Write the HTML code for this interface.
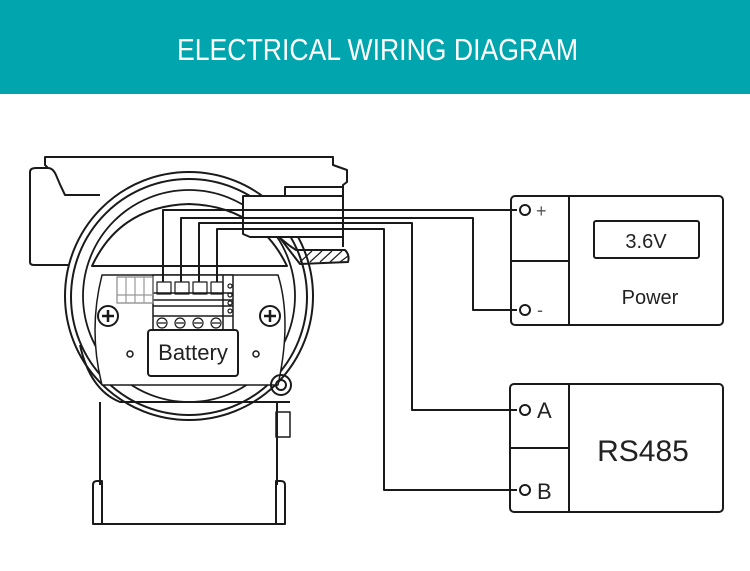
<!DOCTYPE html>
<html><head><meta charset="utf-8"><style>
html,body{margin:0;padding:0;background:#fff;}
svg{display:block;}
</style></head><body>
<svg width="750" height="571" viewBox="0 0 750 571" xmlns="http://www.w3.org/2000/svg" font-family="Liberation Sans, sans-serif">
<rect x="0" y="0" width="750" height="94" fill="#00a5ad"/>
<text x="177" y="60" font-size="31" fill="#fff" textLength="401" lengthAdjust="spacingAndGlyphs">ELECTRICAL WIRING DIAGRAM</text>

<g fill="none" stroke="#1a1a1a" stroke-width="2" stroke-linejoin="round">
<!-- housing top -->
<path d="M100,195 L65,195 Q60,185 56,175 Q53,168 48,168 L45,165 L45,157 L333,157 L333,165 L347,170 L347,182 L343,185 L343,247"/>
<path d="M30,172 Q30,168 36,168 L48,168 M30,172 L30,262 Q30,265 34,265 L68,265"/>
<path d="M285,195 L285,187 L343,187"/>
<!-- hatched block -->
<path d="M280,238 L290,246 L296,250 L345,250 Q350,255 348,262 L300,264 Z" fill="#fff"/>
<g stroke-width="1.2"><path d="M300,262 L312,251 M310,262 L322,251 M320,262 L332,251 M330,262 L342,251 M340,262 L348,256"/></g>
<!-- rings -->
<circle cx="189" cy="296" r="124"/>
<circle cx="189" cy="297" r="118"/>
<circle cx="189" cy="296" r="106" stroke-width="1.8"/>
<path d="M80,345 Q90,390 120,402 L290,402"/>
<!-- inner top cap -->
<path d="M92,266 Q120,206 189,204 Q258,206 287,266 Z" fill="#fff"/>
<!-- plug piece -->
<path d="M243,196 L343,196 L343,237 L250,237 L243,234 Z" fill="#fff"/>
<!-- inner panel -->
<path d="M102,275 L278,275 Q292,320 278,385 L102,385 Q88,330 102,275 Z" fill="#fff" stroke-width="1.5"/>
<!-- lower body -->
<path d="M100,402 L100,485 M277,402 L277,485"/>
<path d="M93,485 L93,524 L285,524 L285,485 M93,485 Q93,481 97,481 L102,481 L102,524 M285,485 Q285,481 281,481 L276,481 L276,524"/>
<rect x="276" y="412" width="14" height="25" stroke-width="1.5"/>
<circle cx="281" cy="385" r="10"/><circle cx="281" cy="385" r="5"/>
<!-- terminal block -->
<rect x="153" y="275" width="80" height="55" fill="#fff" stroke-width="1.5"/>
<path d="M153,293 L233,293 M153,300 L233,300 M153,306 L233,306 M153,316 L233,316 M223,275 L223,330" stroke-width="1.5"/>
<rect x="157" y="282" width="14" height="12" stroke-width="1.2"/><rect x="175" y="282" width="14" height="12" stroke-width="1.2"/><rect x="193" y="282" width="14" height="12" stroke-width="1.2"/><rect x="211" y="282" width="12" height="12" stroke-width="1.2"/>
<g stroke-width="1.2"><circle cx="162" cy="323" r="5"/><circle cx="180" cy="323" r="5"/><circle cx="198" cy="323" r="5"/><circle cx="216" cy="323" r="5"/>
<path d="M158,323 h8 M176,323 h8 M194,323 h8 M212,323 h8"/>
<circle cx="230" cy="286" r="2"/><circle cx="230" cy="295" r="2"/><circle cx="230" cy="303" r="2"/><circle cx="230" cy="311" r="2"/>
<rect x="117" y="277" width="36" height="26" stroke="#888"/>
<path d="M126,277 v26 M135,277 v26 M144,277 v26 M117,295 h36" stroke="#999"/></g>
<!-- screws -->
<circle cx="108" cy="316" r="10"/><path d="M102,316 h12 M108,310 v12" stroke-width="2.5"/>
<circle cx="270" cy="316" r="10"/><path d="M264,316 h12 M270,310 v12" stroke-width="2.5"/>
<circle cx="130" cy="354" r="3" stroke-width="1.5"/><circle cx="256" cy="354" r="3" stroke-width="1.5"/>
<!-- battery -->
<rect x="148" y="330" width="90" height="46" rx="3" fill="#fff"/>
<!-- wires -->
<path d="M163,282 L163,210 L517,210"/>
<path d="M181,282 L181,218 L473,218 L473,310 L517,310"/>
<path d="M199,282 L199,223 L412,223 L412,410 L517,410"/>
<path d="M217,282 L217,229 L384,229 L384,490 L517,490"/>
<!-- power box -->
<rect x="511" y="196" width="212" height="129" rx="4"/>
<path d="M569,196 L569,325 M511,261 L569,261"/>
<rect x="594" y="221" width="105" height="37" rx="2"/>
<!-- rs485 -->
<rect x="510" y="384" width="213" height="128" rx="4"/>
<path d="M569,384 L569,512 M510,448 L569,448"/>
<circle cx="525" cy="210" r="5" fill="#fff"/><circle cx="525" cy="310" r="5" fill="#fff"/>
<circle cx="525" cy="410" r="5" fill="#fff"/><circle cx="525" cy="490" r="5" fill="#fff"/>
</g>
<g fill="#222">
<text x="193" y="360" font-size="22" text-anchor="middle">Battery</text>
<text x="646" y="248" font-size="20" text-anchor="middle">3.6V</text>
<text x="650" y="304" font-size="20" text-anchor="middle">Power</text>
<text x="643" y="461" font-size="30" text-anchor="middle">RS485</text>
<text x="537" y="418" font-size="22">A</text>
<text x="537" y="499" font-size="22">B</text>
<text x="536" y="217" font-size="18" fill="#555">+</text>
<text x="537" y="316" font-size="18" fill="#555">-</text>
</g>
</svg>
</body></html>
